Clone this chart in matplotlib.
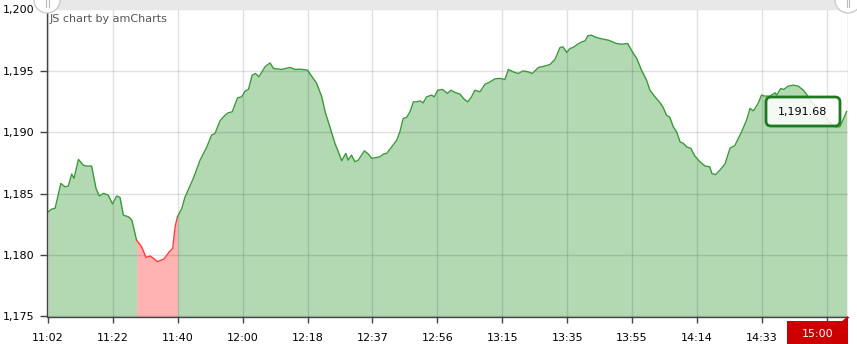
import matplotlib
matplotlib.use("Agg")
import matplotlib.pyplot as plt
from matplotlib.patches import Circle, Rectangle, FancyBboxPatch, Polygon
from matplotlib.ticker import FuncFormatter

# ---- data (minutes after 11:00, price) ----
minutes = [2.1, 3.1, 4.1, 5.8, 7.0, 8.0, 9.0, 9.7, 11.0, 12.4, 13.4, 14.9, 16.2, 17.2, 18.4, 19.8,
           21.1, 22.3, 23.3, 24.3, 25.8, 26.8, 28.2, 29.7, 31.0, 32.2, 33.2, 34.3, 36.3, 37.9, 38.9,
           39.6, 40.3, 41.6, 42.5, 45.0, 47.0, 49.0, 50.4, 51.4, 52.9, 54.4, 55.3, 56.5, 58.1, 59.3,
           60.3, 61.3, 62.4, 63.4, 64.4, 66.2, 67.7, 68.7, 71.1, 73.6, 75.1, 76.6, 78.8, 80.0, 81.5,
           83.0, 84.0, 85.4, 86.9, 87.9, 88.9, 90.1, 90.8, 91.8, 92.8, 93.8, 95.6, 96.8, 97.8, 99.2,
           100.2, 101.2, 102.2, 103.7, 105.2, 106.1, 107.1, 108.1, 109.1, 110.1, 111.1, 112.1, 113.0,
           114.0, 115.5, 116.3, 117.3, 118.7, 120.2, 121.2, 122.4, 123.9, 125.2, 126.2, 127.3, 128.3,
           129.8, 131.3, 132.3, 134.2, 135.7, 137.2, 138.2, 139.7, 141.1, 142.6, 144.1, 145.3, 147.1,
           149.0, 150.5, 152.0, 153.5, 154.4, 155.5, 156.4, 157.4, 158.7, 159.9, 160.9, 161.7, 162.8,
           163.8, 165.3, 167.8, 170.2, 171.7, 173.5, 175.2, 176.2, 177.6, 179.1, 180.1, 181.6, 183.1,
           184.0, 185.0, 186.0, 187.0, 188.0, 189.0, 190.0, 191.0, 192.2, 193.4, 194.9, 196.4, 197.8,
           198.4, 199.5, 200.8, 202.3, 203.8, 205.2, 207.2, 208.7, 209.7, 210.7, 212.1, 213.1, 214.1,
           215.6, 217.1, 217.6, 218.8, 219.7, 221.0, 222.5, 224.0, 225.5, 226.6, 227.9, 229.2, 231.0,
           233.3, 235.1, 236.3, 237.2, 238.3]
price = [1183.52, 1183.74, 1183.80, 1185.83, 1185.55, 1185.61, 1186.59, 1186.24, 1187.78, 1187.32,
         1187.24, 1187.24, 1185.42, 1184.80, 1185.02, 1184.88, 1184.15, 1184.80, 1184.69, 1183.25,
         1183.11, 1182.85, 1181.22, 1180.67, 1179.81, 1179.92, 1179.73, 1179.46, 1179.67, 1180.27,
         1180.54, 1182.30, 1183.11, 1183.80, 1184.69, 1186.24, 1187.72, 1188.80, 1189.76, 1189.89,
         1190.92, 1191.38, 1191.57, 1191.65, 1192.79, 1192.87, 1193.33, 1193.47, 1194.63, 1194.77,
         1194.50, 1195.31, 1195.63, 1195.18, 1195.10, 1195.26, 1195.10, 1195.12, 1195.04, 1194.55,
         1193.96, 1192.87, 1191.65, 1190.43, 1189.08, 1188.40, 1187.67, 1188.27, 1187.72, 1188.13,
         1187.59, 1187.72, 1188.48, 1188.21, 1187.86, 1187.94, 1187.99, 1188.21, 1188.27, 1188.80,
         1189.35, 1190.02, 1191.11, 1191.20, 1191.65, 1192.46, 1192.46, 1192.54, 1192.38, 1192.87,
         1193.01, 1192.87, 1193.41, 1193.47, 1193.15, 1193.41, 1193.23, 1193.09, 1192.66, 1192.46,
         1192.87, 1193.41, 1193.28, 1193.90, 1194.01, 1194.33, 1194.37, 1194.28, 1195.10, 1194.90,
         1194.77, 1194.98, 1194.90, 1194.77, 1195.26, 1195.37, 1195.50, 1195.91, 1196.89, 1196.93,
         1196.48, 1196.80, 1196.89, 1197.15, 1197.34, 1197.42, 1197.83, 1197.89, 1197.75, 1197.62,
         1197.48, 1197.21, 1197.15, 1197.21, 1196.40, 1195.99, 1195.04, 1194.23, 1193.41, 1192.87,
         1192.38, 1192.01, 1191.38, 1191.20, 1190.43, 1190.02, 1189.21, 1189.08, 1188.80, 1188.67,
         1188.05, 1187.59, 1187.24, 1187.18, 1186.64, 1186.54, 1186.91, 1187.40, 1188.70, 1188.90,
         1190.02, 1190.98, 1191.93, 1191.73, 1192.33, 1193.01, 1192.93, 1192.93, 1193.20, 1193.01,
         1193.55, 1193.47, 1193.74, 1193.82, 1193.74, 1193.41, 1193.01, 1192.46, 1192.11, 1191.54,
         1190.81, 1190.41, 1190.43, 1190.98, 1191.68]
red_start, red_end = 22, 32   # indices of the red (down) segment
tick_labels = ["11:02", "11:22", "11:40", "12:00", "12:18", "12:37", "12:56", "13:15",
               "13:35", "13:55", "14:14", "14:33", ""]
y_ticks = [1175, 1180, 1185, 1190, 1195, 1200]
last_value_label = "1,191.68"
cursor_label = "15:00"

# ---- figure ----
W, H = 857, 344
fig = plt.figure(figsize=(W / 100, H / 100), dpi=100)
plt.rcParams["font.family"] = ["DejaVu Sans"]
ax = fig.add_axes([47 / W, (H - 316.5) / H, (848 - 47) / W, (316.5 - 9.2) / H])

GREEN_FILL, GREEN_LINE = "#b3d9b3", "#3a9a3a"
RED_FILL, RED_LINE = "#ffb3b3", "#ff3b3b"
base = 1175

segs = [(0, red_start, GREEN_FILL, GREEN_LINE),
        (red_start, red_end, RED_FILL, RED_LINE),
        (red_end, len(price) - 1, GREEN_FILL, GREEN_LINE)]
for a, b, fc, lc in segs:
    ax.fill_between(minutes[a:b + 1], price[a:b + 1], base, color=fc, lw=0, zorder=1)
    ax.plot(minutes[a:b + 1], price[a:b + 1], color=lc, lw=1.0, zorder=4)

ax.set_xlim(1.7, 238.7)
ax.set_ylim(1175, 1200)
ticks = [2 + 19.2 * i for i in range(len(tick_labels))]
ax.set_xticks(ticks)
ax.set_xticklabels(tick_labels)
ax.set_yticks(y_ticks)
ax.yaxis.set_major_formatter(FuncFormatter(lambda v, p: f"{v:,.0f}"))

ax.set_axisbelow(False)
ax.grid(True, color="black", alpha=0.12, lw=1.0, zorder=3)
for s in ("top", "right"):
    ax.spines[s].set_visible(False)
for s in ("left", "bottom"):
    ax.spines[s].set_color("#444444")
    ax.spines[s].set_linewidth(1.0)
    ax.spines[s].set_zorder(5)
ax.tick_params(axis="y", length=5, width=1, color="#444444", labelsize=8, pad=4)
ax.tick_params(axis="x", length=4, width=1, color="#444444", labelsize=8, pad=8)

# cursor line at right edge
ax.axvline(238.6, color="#ffb0b0", lw=1, zorder=5)

tr = fig.dpi_scale_trans
def P(x, y):
    return (x / 100, (H - y) / 100)

# scrollbar band at top
fig.add_artist(Rectangle(P(47, 10), 801 / 100, 10 / 100, transform=tr,
                         facecolor="#e8e8e8", edgecolor="none", zorder=1))
for cx in (47, 848):
    fig.add_artist(Circle(P(cx, 0), 13 / 100, transform=tr, facecolor="white",
                          edgecolor="#cccccc", lw=1, zorder=2))
    for dx in (-1.5, 1.5):
        fig.add_artist(plt.Line2D([(cx + dx) / 100] * 2, [(H - 0) / 100, (H - 7) / 100],
                                  transform=tr, color="#bbbbbb", lw=0.8, zorder=3))

fig.text(50 / W, (H - 19) / H, "JS chart by amCharts", fontsize=8, color="#555555",
         ha="left", va="center")

# value balloon
fig.add_artist(FancyBboxPatch(P(766, 126), 74 / 100, 29 / 100, transform=tr,
                              boxstyle="round,pad=0,rounding_size=0.05",
                              facecolor="white", alpha=0.85, edgecolor="none", zorder=6))
fig.add_artist(FancyBboxPatch(P(766, 126), 74 / 100, 29 / 100, transform=tr,
                              boxstyle="round,pad=0,rounding_size=0.05",
                              facecolor="none", edgecolor="#1f7a1f", lw=2, zorder=7))
fig.text(803 / W, (H - 112) / H, last_value_label, fontsize=8, color="black",
         ha="center", va="center", zorder=8)

# cursor category label
fig.add_artist(Rectangle(P(787, 344), 61 / 100, 23 / 100, transform=tr,
                         facecolor="#cc0000", edgecolor="none", zorder=6))
fig.add_artist(Polygon([P(841, 321.5), P(848, 321.5), P(848, 316)], closed=True,
                       transform=tr, facecolor="#cc0000", edgecolor="none", zorder=6))
fig.text(818 / W, (H - 334) / H, cursor_label, fontsize=8, color="white",
         ha="center", va="center", zorder=7)

fig.savefig("out.png", dpi=100)
